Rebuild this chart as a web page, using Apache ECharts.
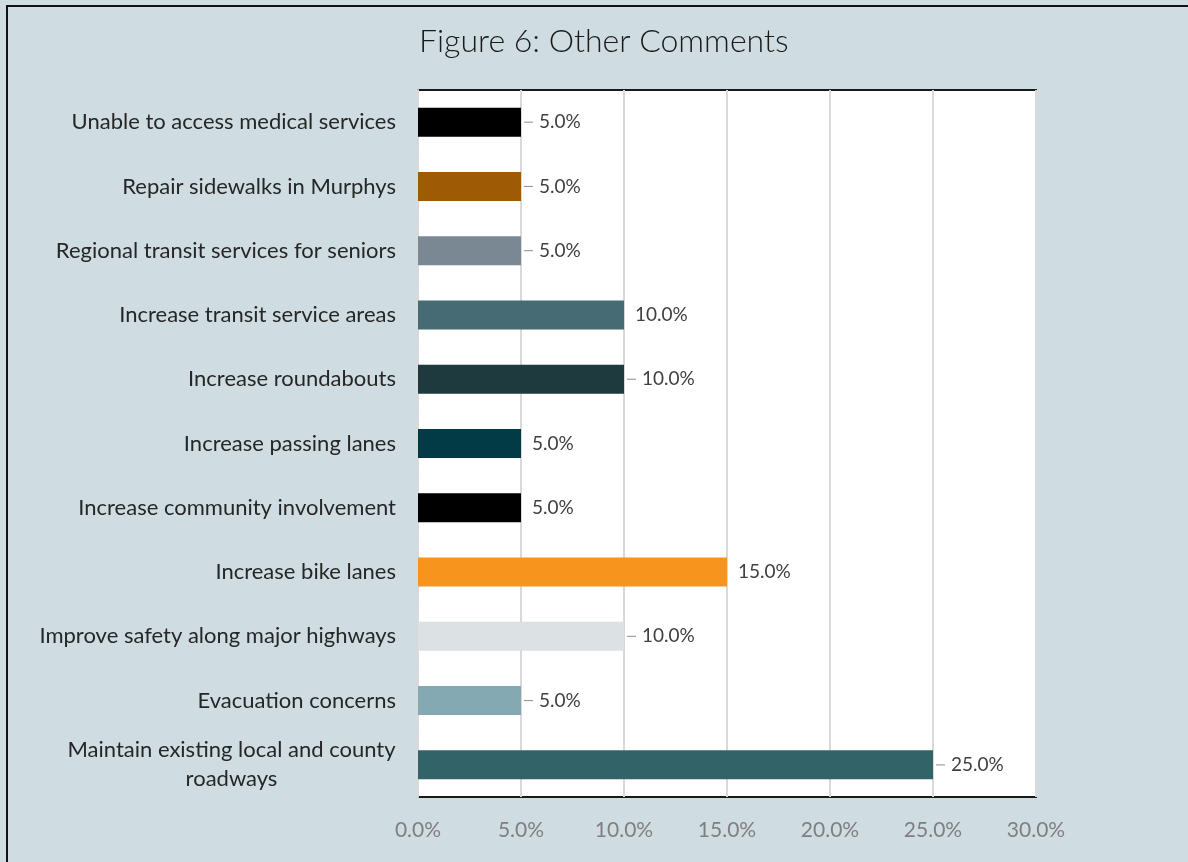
<!DOCTYPE html>
<html>
<head>
<meta charset="utf-8">
<title>Figure 6: Other Comments</title>
<script src="https://cdn.jsdelivr.net/npm/echarts@6/dist/echarts.min.js"></script>
<style>
  html, body { margin: 0; padding: 0; background: #cfdde2; }
  #chart { position: absolute; left: 0; top: 0; width: 1188px; height: 862px; }
  /* outer frame: only top and left edges are visible in the source */
  #frame {
    position: absolute; left: 6px; top: 5px; width: 1200px; height: 900px;
    border-left: 2px solid #111; border-top: 2px solid #111;
    pointer-events: none;
  }
</style>
</head>
<body>
<div id="chart"></div>
<div id="frame"></div>
<script>
// comments, top to bottom as shown
const categories = [
  'Unable to access medical services',
  'Repair sidewalks in Murphys',
  'Regional transit services for seniors',
  'Increase transit service areas',
  'Increase roundabouts',
  'Increase passing lanes',
  'Increase community involvement',
  'Increase bike lanes',
  'Improve safety along major highways',
  'Evacuation concerns',
  'Maintain existing local and county\nroadways',
]
// share of respondents, %
const shares = [5, 5, 5, 10, 10, 5, 5, 15, 10, 5, 25]
const axisTicks = [0, 5, 10, 15, 20, 25, 30]

const barColors = [
  '#000000', '#9e5a04', '#798893', '#466b74', '#1e3a3f', '#023a46',
  '#000000', '#f7941e', '#dce1e4', '#84a9b3', '#316368',
]
// which data labels have the little leader dash
const hasLeader = [true, true, true, false, true, false, false, false, true, true, true]

const FONT = 'Lato, "Noto Sans", sans-serif'
const CAT_SIZE = 22

// width of the longest line of the wrapped label, so both lines centre on it
const measure = document.createElement('canvas').getContext('2d')
measure.font = CAT_SIZE + 'px ' + FONT
const wrapWidth = Math.ceil(measure.measureText('Maintain existing local and county').width)

const chart = echarts.init(document.getElementById('chart'), null, { renderer: 'canvas' })

chart.setOption({
  backgroundColor: 'transparent',
  animation: false,
  title: {
    text: 'Figure 6: Other Comments',
    left: 414,
    top: 21,
    textStyle: { fontFamily: FONT, fontWeight: 300, fontSize: 32, color: '#1a1a1a' },
  },
  grid: {
    left: 418, right: 152, top: 90, bottom: 65,
    show: true,
    backgroundColor: '#ffffff',
    borderColor: '#1a1a1a',
    borderWidth: 2,
  },
  xAxis: {
    type: 'value',
    min: axisTicks[0],
    max: axisTicks[axisTicks.length - 1],
    interval: axisTicks[1] - axisTicks[0],
    axisLine: { show: false },
    axisTick: { show: false },
    axisLabel: {
      margin: 23,
      fontFamily: FONT,
      fontSize: 21,
      color: '#7f7f7f',
      formatter: v => v.toFixed(1) + '%',
    },
    splitLine: { show: true, lineStyle: { color: '#d9d9d9', width: 2 } },
  },
  yAxis: {
    type: 'category',
    inverse: true,
    data: categories,
    axisLine: { show: true, lineStyle: { color: '#d9d9d9', width: 2 } },
    axisTick: { show: true, length: 5, lineStyle: { color: '#d9d9d9' } },
    axisLabel: {
      margin: 22,
      fontFamily: FONT,
      fontSize: CAT_SIZE,
      color: '#262626',
      formatter: v => v.indexOf('\n') >= 0 ? '{w|' + v + '}' : v,
      rich: {
        w: { width: wrapWidth, align: 'center', fontFamily: FONT, fontSize: CAT_SIZE, color: '#262626', lineHeight: 29 },
      },
    },
  },
  series: [{
    type: 'bar',
    barWidth: 29,
    data: shares.map((v, i) => ({ value: v, itemStyle: { color: barColors[i] } })),
    label: {
      show: true,
      position: 'right',
      distance: 3,
      fontFamily: FONT,
      fontSize: 19,
      color: '#404040',
      formatter: p => (hasLeader[p.dataIndex] ? '{d|}{g|}' : '{s|}') + '{v|' + p.value.toFixed(1) + '%}',
      rich: {
        d: { width: 9, height: 1, backgroundColor: '#8c8c8c' },
        g: { width: 6 },
        s: { width: 8 },
        v: { fontFamily: FONT, fontSize: 19, color: '#404040' },
      },
    },
  }],
})
</script>
</body>
</html>
